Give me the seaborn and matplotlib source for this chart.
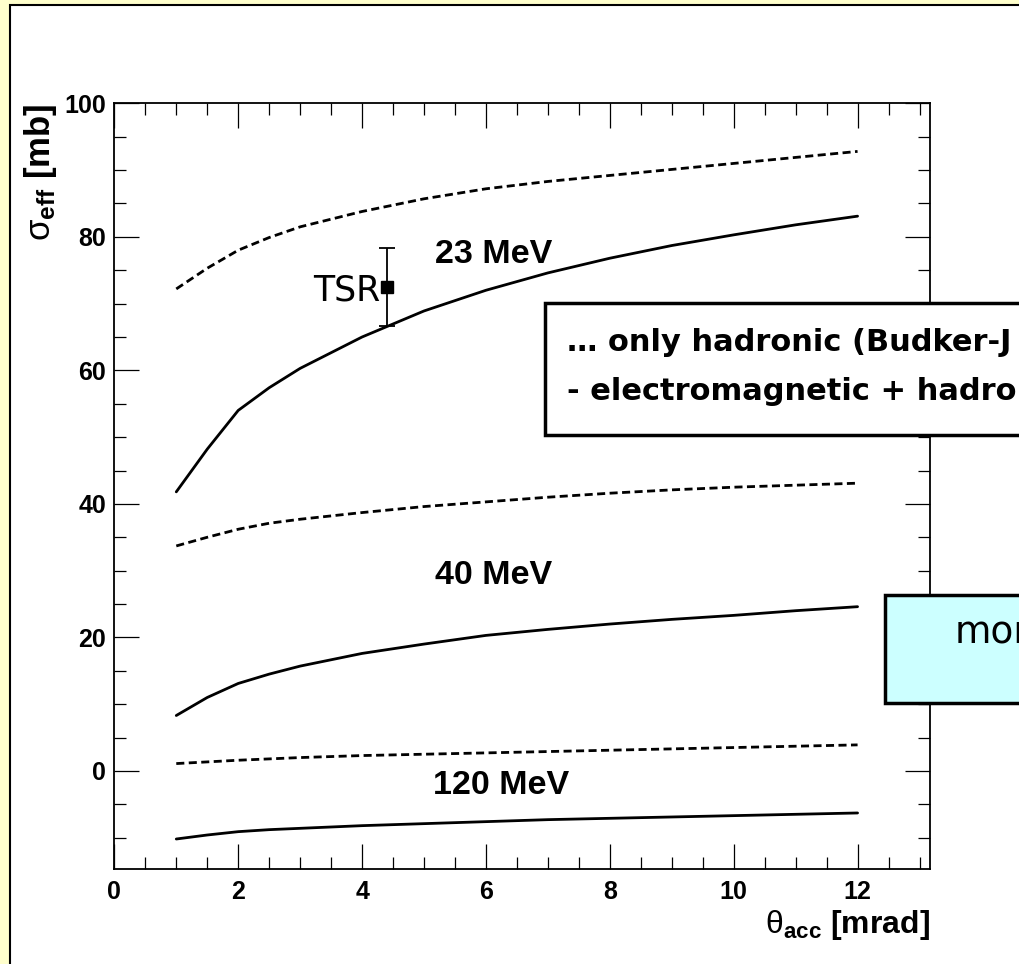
import matplotlib
matplotlib.use("Agg")
import matplotlib.pyplot as plt
from matplotlib.patches import Rectangle
from matplotlib.ticker import MultipleLocator
import pandas as pd
import seaborn as sns

# acceptance angle grid [mrad]
theta = [1, 1.5, 2, 2.5, 3, 4, 5, 6, 7, 8, 9, 10, 11, 12]

# effective cross sections [mb]
had_23 = [72.2, 75.3, 78.0, 79.9, 81.5, 83.8, 85.7, 87.2, 88.3, 89.2, 90.1, 91.0, 91.9, 92.8]
full_23 = [41.8, 48.2, 54.0, 57.4, 60.3, 65.0, 68.9, 72.0, 74.6, 76.8, 78.7, 80.3, 81.8, 83.1]
had_40 = [33.7, 35.0, 36.2, 37.1, 37.7, 38.7, 39.6, 40.3, 41.0, 41.6, 42.1, 42.5, 42.8, 43.1]
full_40 = [8.3, 11.0, 13.1, 14.5, 15.7, 17.6, 19.0, 20.3, 21.2, 22.0, 22.7, 23.3, 24.0, 24.6]
had_120 = [1.1, 1.35, 1.6, 1.8, 2.0, 2.3, 2.5, 2.7, 2.9, 3.1, 3.3, 3.5, 3.7, 3.9]
full_120 = [-10.2, -9.6, -9.1, -8.8, -8.6, -8.2, -7.9, -7.6, -7.3, -7.1, -6.9, -6.7, -6.5, -6.3]

# TSR measurement
tsr_theta = 4.4
tsr_sigma = 72.5
tsr_err = 5.9

energy_labels = ["23 MeV", "40 MeV", "120 MeV"]
legend_lines = ["\u2026 only hadronic (Budker-J", "- electromagnetic + hadronic"]
note_text = "more"

curves = {
    ("23 MeV", "had"): had_23, ("23 MeV", "full"): full_23,
    ("40 MeV", "had"): had_40, ("40 MeV", "full"): full_40,
    ("120 MeV", "had"): had_120, ("120 MeV", "full"): full_120,
}
rows = []
for (energy, comp), vals in curves.items():
    for t, s in zip(theta, vals):
        rows.append({"theta": t, "sigma": s, "curve": energy + comp, "component": comp})
df = pd.DataFrame(rows)

sns.set_style("ticks")
plt.rcParams["font.family"] = ["Liberation Sans", "DejaVu Sans"]
plt.rcParams["mathtext.fontset"] = "custom"
plt.rcParams["mathtext.rm"] = "Liberation Sans"
plt.rcParams["mathtext.bf"] = "Liberation Sans:bold"
plt.rcParams["mathtext.it"] = "Liberation Sans:italic"
for key in ["text.color", "axes.labelcolor", "xtick.color", "ytick.color", "axes.edgecolor"]:
    plt.rcParams[key] = "black"

fig = plt.figure(figsize=(10.2, 9.64), dpi=100, facecolor="#FFFFCC")
# white pad with black frame
fig.patches.append(Rectangle((10 / 1020, -0.05), 1.2, 0.9948 + 0.05,
                             transform=fig.transFigure, facecolor="white",
                             edgecolor="black", lw=1.5, zorder=-5))

ax = fig.add_axes([0.1121, 0.0985, 0.7997, 0.7943])
ax.set_facecolor("white")
ax.set_zorder(1)

sns.lineplot(data=df, x="theta", y="sigma", units="curve", style="component",
             estimator=None, color="black", lw=2.0, ax=ax, legend=False,
             dashes={"had": (2.9, 1.6), "full": ""}, sort=False)

ax.errorbar([tsr_theta], [tsr_sigma], yerr=[tsr_err], fmt="s", color="black",
            ms=8, capsize=6, elinewidth=1.3, capthick=1.3, zorder=5)
ax.text(4.3, 72.0, "TSR", ha="right", va="center", fontsize=25,
        family=["DejaVu Sans"])

label_pos = [(5.18, 77.3), (5.18, 29.3), (5.14, -2.2)]
for lab, (lx, ly) in zip(energy_labels, label_pos):
    ax.text(lx, ly, lab, ha="left", va="center", fontsize=24.5, fontweight="bold")

ax.set_xlim(0, 13.17)
ax.set_ylim(-14.7, 100)
ax.xaxis.set_major_locator(MultipleLocator(2))
ax.xaxis.set_minor_locator(MultipleLocator(0.5))
ax.yaxis.set_major_locator(MultipleLocator(20))
ax.yaxis.set_minor_locator(MultipleLocator(5))
ax.tick_params(which="both", direction="in", top=True, right=True, width=0.9)
ax.tick_params(which="major", length=18, labelsize=18)
ax.tick_params(axis="y", which="major", pad=6)
ax.tick_params(axis="x", which="major", pad=8)
ax.tick_params(which="minor", length=8.6)
for lab in ax.get_xticklabels() + ax.get_yticklabels():
    lab.set_fontweight("bold")
for sp in ax.spines.values():
    sp.set_linewidth(1.3)

ax.set_xlabel(r"$\mathrm{\theta}_{\mathbf{acc}}$ [mrad]", fontsize=23, fontweight="bold")
ax.xaxis.set_label_coords(1.0, -0.073)
ax.xaxis.label.set_ha("right")
ax.xaxis.label.set_va("center")
ax.set_ylabel(r"$\mathrm{\sigma}_{\mathbf{eff}}$ [mb]", fontsize=25, fontweight="bold")
ax.yaxis.set_label_coords(-0.091, 1.0)
ax.yaxis.label.set_ha("right")
ax.yaxis.label.set_va("center")

# legend box (clipped by the page edge)
fig.patches.append(Rectangle((545 / 1020, 1 - 435 / 964), 0.6, (435 - 303) / 964,
                             transform=fig.transFigure, facecolor="white",
                             edgecolor="black", lw=2.5, zorder=3))
fig.text(567 / 1020, 1 - 342 / 964, legend_lines[0], ha="left", va="center",
         fontsize=22, fontweight="bold", family=["DejaVu Sans"], zorder=4)
fig.text(567 / 1020, 1 - 392 / 964, legend_lines[1], ha="left", va="center",
         fontsize=22, fontweight="bold", family=["DejaVu Sans"], zorder=4)

# cyan note box
fig.patches.append(Rectangle((885 / 1020, 1 - 703 / 964), 0.4, (703 - 595) / 964,
                             transform=fig.transFigure, facecolor="#CCFFFF",
                             edgecolor="black", lw=2.5, zorder=3))
fig.text(955 / 1020, 1 - 634 / 964, note_text, ha="left", va="center",
         fontsize=27, family=["DejaVu Sans"], zorder=4)

fig.savefig("out.png", dpi=100, facecolor=fig.get_facecolor())
